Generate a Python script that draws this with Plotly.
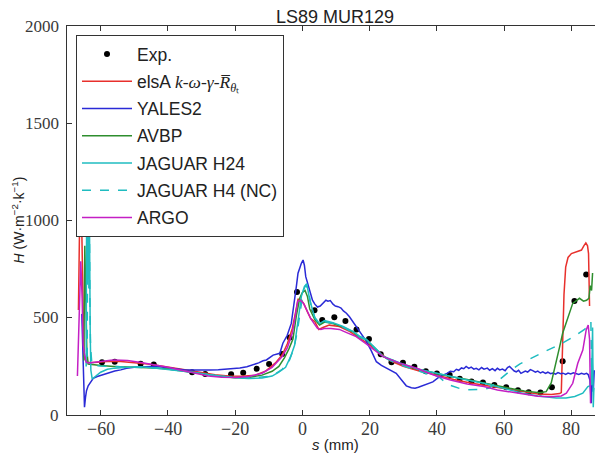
import plotly.graph_objects as go

# ---------------- data ----------------
exp_s = [-59.6, -55.8, -48.1, -44.2, -32.8, -28.9, -21.2, -17.6, -13.6, -9.9, -6.0, -3.8, -1.6, 3.6, 5.9, 9.5,
         12.8, 16.1, 19.8, 23.3, 26.5, 29.9, 33.3, 36.7, 40.0, 43.8, 46.8, 50.3, 53.7, 57.1, 60.6, 64.1, 67.3,
         70.8, 74.2, 77.4, 80.9, 84.4]
exp_h = [271, 274, 264, 259, 220, 211, 209, 217, 238, 262, 313, 398, 632, 538, 488, 502,
         483, 439, 391, 312, 271, 268, 248, 225, 214, 206, 186, 172, 167, 154, 143, 127, 117,
         116, 143, 276, 586, 723]

elsa_s = [-66.6, -66.3, -66.0, -65.6, -65.3, -65.0, -64.6, -64.0, -62, -60, -57, -54, -50, -46, -42, -38, -34,
          -30, -26, -22, -18, -14, -11, -8, -6, -4.5, -3, -2, -1.3, -0.5, 0.5, 1.5, 2.5, 3.7, 4.9, 6.1, 8, 11,
          14, 17, 20, 23, 26, 30, 35, 40, 45, 50, 55, 60, 65, 70, 74, 76.5, 77.0, 77.4, 77.8, 78.3, 79, 80,
          81.5, 83, 83.7, 84.3, 84.8, 85.1, 85.4]
elsa_h = [540, 1100, 1300, 950, 600, 340, 285, 270, 270, 272, 276, 275, 270, 262, 252, 242, 230,
          218, 207, 200, 199, 205, 225, 268, 310, 365, 445, 530, 595, 595, 570, 530, 495, 480, 440, 450, 462, 455,
          430, 395, 360, 320, 280, 250, 225, 205, 183, 165, 150, 135, 120, 108, 106, 110, 115, 350, 620, 760, 810, 830,
          838, 848, 870, 885, 870, 830, 560]

yales_s = [-65.6, -65.2, -64.8, -64.5, -64.2, -63.7, -63, -62.2, -61, -59.7, -57.5, -55.8, -54, -52.3, -50, -47.8,
           -45, -42.4, -40, -37.4, -35, -32.5, -30, -27.5, -25, -22.6, -20.5, -18.6, -16.5, -14.7, -13, -11.7,
           -10.7, -8.7, -6.7, -5.8, -4.5, -3.3, -2.5, -1.8, -1.3, -0.8, -0.3, 0.2, 0.6, 1.0, 1.5, 2.2, 3.0, 3.7,
           4.5, 5.3, 6.1, 7.0, 7.6, 8.3, 9.1, 9.8, 10.6, 11.5, 12.2, 13.1, 14, 15, 16, 17.5, 19, 20.5, 22, 23.5,
           25, 26.5, 27.9, 29.5, 30.9, 32.4, 33.5, 34.5, 35.8, 37, 38.8, 40.8, 42, 43, 44, 45, 45.8, 46.5, 47.3,
           48, 48.7, 49.5, 50.2, 51, 51.7, 52.5, 53.3, 54, 55, 55.7, 56.5, 57.3, 58, 58.7, 59.5, 60.3, 61, 61.6,
           62.3, 63, 63.6, 64.3, 65, 65.6, 66.3, 67, 67.8, 68.5, 69.3, 70, 70.8, 71.5, 72.3, 73, 73.8, 74.5,
           75.3, 76, 76.8, 77.5, 78.3, 79, 79.8, 80.6, 81.4, 82.2, 83, 83.8, 84.5, 85, 85.5, 85.9, 86.2, 86.5,
           86.8]
yales_h = [520, 250, 40, 90, 125, 150, 170, 189, 198, 206, 216, 226, 232, 240, 245, 248,
           249, 248, 243, 235, 232, 231, 230, 231, 233, 235, 238, 242, 248, 257, 268, 279,
           283, 308, 317, 369, 410, 471, 560, 660, 729, 760, 780, 797, 770, 711, 680, 640, 590, 570,
           555, 560, 575, 590, 585, 588, 570, 560, 557, 550, 535, 523, 505, 480, 454, 420, 380, 330, 274, 255,
           240, 225, 214, 180, 150, 140, 138, 143, 150, 160, 170, 197, 205, 214, 225, 222, 235, 230, 242,
           238, 250, 240, 246, 236, 240, 232, 244, 236, 241, 230, 238, 228, 240, 232, 236, 228, 244, 250,
           238, 226, 222, 230, 214, 218, 226, 221, 233, 228, 220, 226, 216, 222, 214, 220, 212, 216,
           210, 218, 212, 215, 209, 216, 211, 217, 213, 209, 214, 210, 214, 208, 180, 60, 270, 120,
           230]

avbp_s = [-65.0, -64.7, -64.4, -64.1, -63.7, -62, -60, -56, -52, -48, -44, -40, -36, -32, -28, -24, -20, -16, -12,
          -9, -7, -5.3, -4, -2.8, -1.8, -0.8, 0, 0.8, 1.5, 2.2, 3.7, 5.1, 6.6, 9.1, 12.1, 15, 17, 19, 24, 29, 34,
          39, 44, 49, 54, 58, 62, 66, 70.5, 72.5, 74, 75.5, 76.5, 77.4, 79, 80.4, 82.4, 83.6, 84.5, 85.2, 85.6,
          86.0, 86.2, 86.3]
avbp_h = [280, 870, 600, 330, 262, 258, 254, 250, 248, 246, 242, 236, 226, 215, 206, 198, 192, 193, 205,
          225, 250, 295, 340, 390, 510, 600, 630, 640, 610, 545, 490, 463, 478, 470, 452, 428, 400, 388, 300, 265, 236,
          216, 198, 182, 166, 150, 136, 123, 114, 120, 165, 270, 350, 420, 505, 574, 600, 585, 590, 600, 665,
          640, 700, 730]

h24_s = [-64.3, -64.1, -63.9, -63.7, -63.5, -63.3, -63.1, -62.9, -62.5, -61.5, -60, -58, -55.8, -52, -48, -44, -40,
         -36, -32, -28, -24, -20, -16, -12, -9, -7, -5, -3.5, -2.3, -1.3, -0.3, 0.6, 1.3, 2.2, 3.7, 5.1, 6.6, 9.1,
         12.1, 15, 17, 19, 24, 29, 34, 39, 44, 49, 54, 58, 62, 66, 70, 75.5, 78.4, 81, 83.4, 84.9, 85.6, 86.0,
         86.3, 86.5, 86.7]
h24_h = [250, 1400, 700, 1250, 650, 950, 420, 230, 185, 200, 220, 235, 241, 246, 248, 242, 235,
         227, 218, 208, 200, 192, 188, 190, 200, 220, 245, 300, 360, 480, 610, 660, 675, 590, 500, 470, 485, 475,
         455, 430, 405, 390, 302, 268, 238, 218, 198, 180, 163, 145, 125, 110, 98, 88, 88, 95, 112, 146, 150, 160,
         450, 40, 140]

h4_s = [-64.0, -63.8, -63.6, -63.4, -63.2, -63.0, -62.6, -62, -60, -57, -54, -50, -46, -42, -38, -34, -30, -26, -22,
        -18, -14, -10, -8, -6, -4, -2.5, -1.5, -0.5, 0.3, 1.0, 1.8, 2.6, 3.7, 5.1, 6.6, 9.1, 12.1, 15, 17, 19, 22,
        25, 28, 31, 34, 37, 40, 42, 43.8, 46.7, 49, 51.7, 54, 55.7, 58, 61.6, 64.6, 68, 72.5, 76.5, 80.4, 83.9,
        85.4, 85.8, 86.1]
h4_h = [300, 1300, 800, 1200, 600, 350, 262, 255, 252, 250, 250, 248, 245, 240, 232, 222, 212, 203, 196,
        192, 192, 198, 212, 235, 275, 345, 430, 550, 640, 668, 640, 560, 500, 468, 480, 472, 452, 425, 400, 385, 335,
        290, 265, 248, 230, 212, 205, 175, 154, 137, 130, 129, 132, 140, 175, 225, 262, 292, 330, 362, 400, 440,
        465, 480, 120]

argo_s = [-66.9, -66.4, -65.9, -65.5, -65.2, -64.8, -64.3, -63.5, -62, -60, -57, -55.8, -52, -48, -44, -40, -36,
          -32, -28, -24, -20, -16, -12, -9, -6, -4.5, -3, -2, -1.4, -0.6, 0.3, 1.3, 2.5, 3.5, 4.5, 5.5, 6.5, 8.5,
          11, 13, 16, 19, 24, 29, 34, 39, 44, 49, 54, 58, 62, 66, 70, 74, 77, 78.5, 80.4, 81.9, 83.4, 84.4, 85.0,
          85.4, 85.7]
argo_h = [200, 500, 790, 600, 360, 310, 272, 268, 272, 276, 282, 283, 280, 270, 258, 245, 230,
          215, 200, 194, 193, 198, 215, 245, 300, 345, 420, 520, 585, 590, 575, 540, 495, 470, 445, 440, 445, 445,
          440, 425, 403, 365, 300, 266, 240, 206, 180, 159, 146, 129, 118, 106, 96, 94, 98, 112, 163, 266, 334, 437,
          463, 390, 60]

x_ticks = [-60, -40, -20, 0, 20, 40, 60, 80]
x_tick_labels = ["−60", "−40", "−20", "0", "20", "40", "60", "80"]
y_ticks = [0, 500, 1000, 1500, 2000]
y_tick_labels = ["0", "500", "1000", "1500", "2000"]

# ---------------- figure ----------------
SANS = "Liberation Sans, Arial, sans-serif"
SERIF = "Liberation Serif, Times New Roman, serif"
OFF = 8                      # default page margin of the html body
W, H = 603 - OFF, 454 - OFF  # figure size that fits the window
ML, MR, MT, MB = 67 - OFF, 0, 26 - OFF, 39
PW, PH = W - ML - MR, H - MT - MB
XTICKFONT = dict(family=SERIF, size=18, color="#3a3a3a")
YTICKFONT = dict(family=SERIF, size=17, color="#3a3a3a")

fig = go.Figure()
fig.add_trace(go.Scatter(x=exp_s, y=exp_h, mode="markers", name="Exp.",
                         marker=dict(color="black", size=6), legendgroup="a"))
series = [
    ("elsA <span style=\"font-family:'Liberation Serif'\"><i>k</i>-<i>ω</i>-<i>γ</i>-<i>R̅</i><sub><i>θ</i>ₜ</sub></span>",
     elsa_s, elsa_h, "#e8302c", "solid", "b"),
    ("YALES2", yales_s, yales_h, "#2a2ad6", "solid", "c"),
    ("AVBP", avbp_s, avbp_h, "#2e8e2e", "solid", "d"),
    ("JAGUAR H24", h24_s, h24_h, "#1fbcc0", "solid", "e"),
    ("JAGUAR H4 (NC)", h4_s, h4_h, "#1fbcc0", "dash", "f"),
    ("ARGO", argo_s, argo_h, "#c41fc4", "solid", "g"),
]
for name, xs, ys, col, dash, grp in series:
    fig.add_trace(go.Scatter(x=xs, y=ys, mode="lines", name=name, legendgroup=grp,
                             line=dict(color=col, width=1.5, dash=dash)))

annotations = [
    dict(text="<i>H</i> (W·m<sup>−2</sup>·k<sup>−1</sup>)", xref="paper", yref="paper",
         x=-(67 - 18) / PW, y=0.5, xanchor="center", yanchor="middle",
         textangle=-90, showarrow=False, font=dict(family=SANS, size=14, color="#222")),
    dict(text="<i>s</i> (mm)", xref="paper", yref="paper",
         x=(335 - 67) / PW, y=-(444 - 415) / PH,
         xanchor="center", yanchor="middle", showarrow=False,
         font=dict(family=SANS, size=15, color="#222")),
]
# tick labels (placed as text at the axis ticks)
for v, t in zip(x_ticks, x_tick_labels):
    annotations.append(dict(text=t, x=v, xref="x", y=-(429 - 415) / PH, yref="paper",
                            xanchor="center", yanchor="middle", showarrow=False, font=XTICKFONT))
for v, t in zip(y_ticks, y_tick_labels):
    annotations.append(dict(text=t, x=-(67 - 61) / PW, xref="paper", y=v, yref="y",
                            xanchor="right", yanchor="middle", showarrow=False, font=YTICKFONT))

fig.update_layout(
    width=W, height=H, autosize=False,
    margin=dict(l=ML, r=MR, t=MT, b=MB, autoexpand=False),
    paper_bgcolor="white", plot_bgcolor="white",
    title=dict(text="LS89 MUR129", x=0.5, xref="paper", xanchor="center",
               y=1 - (17 - OFF) / H, yref="container", yanchor="middle",
               font=dict(family=SANS, size=18, color="#222")),
    legend=dict(x=(76 - 67) / PW, y=1 - (35 - 26) / PH, xanchor="left", yanchor="top",
                bgcolor="white", bordercolor="#333", borderwidth=1,
                font=dict(family=SANS, size=17.5, color="#222"),
                itemwidth=50, tracegroupgap=1.5),
    showlegend=True,
    annotations=annotations,
)
fig.update_xaxes(range=[-70, 89.4], tickvals=x_ticks, showticklabels=False, ticks="inside", ticklen=5,
                 tickcolor="#333", showline=True, linecolor="#333", linewidth=1, mirror="ticks",
                 showgrid=False, zeroline=False, automargin=False)
fig.update_yaxes(range=[0, 2000], tickvals=y_ticks, showticklabels=False, ticks="inside", ticklen=5,
                 tickcolor="#333", showline=True, linecolor="#333", linewidth=1, mirror="ticks",
                 showgrid=False, zeroline=False, automargin=False)

fig.write_html("out.html")
